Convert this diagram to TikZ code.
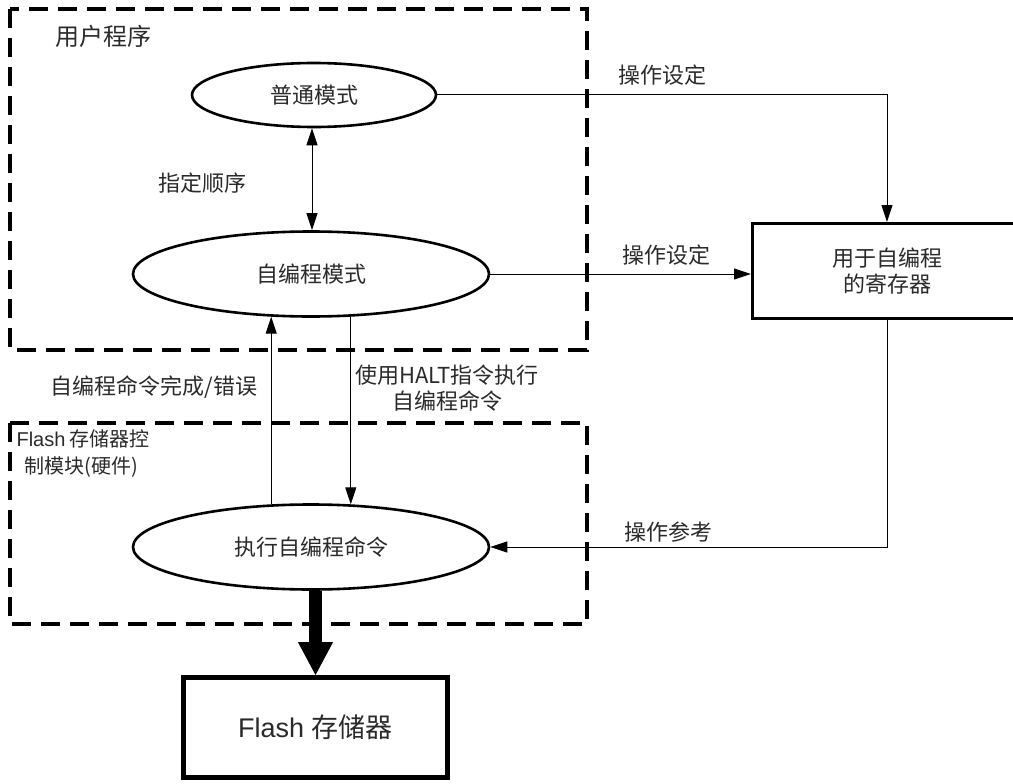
\documentclass[tikz,border=0pt]{standalone}
\usepackage{fontspec}
\setmainfont{Liberation Sans}
\newfontfamily\cjk{Noto Sans CJK SC}
\newfontfamily\arial{Liberation Sans}
\usetikzlibrary{arrows.meta, shapes.geometric}
\definecolor{ink}{HTML}{2A2A2A}

\begin{document}
\begin{tikzpicture}[x=1pt, y=-1pt,
    >={Triangle[length=17pt, width=11pt]},
    every node/.style={font=\cjk\fontsize{22}{26}\selectfont, text=ink},
    mode/.style={ellipse, draw, line width=2.6pt, inner sep=0pt},
    group/.style={draw, line width=3.2pt, dash pattern=on 19pt off 10pt},
    link/.style={line width=1pt, ->},
    memblock/.style={draw, rectangle, inner sep=0pt, align=center}]
\useasboundingbox (0,0) rectangle (1013,784);
\clip (0,0) rectangle (1013,784);

% dashed groups
\draw[group] (10,9) rectangle (587,350);
\draw[group] (10,423) rectangle (587,624);
\node[anchor=west, font=\cjk\fontsize{24}{28}\selectfont] (user-label) at (52,36) {用户程序};
\node[anchor=north west, align=left, font=\cjk\fontsize{20}{27}\selectfont]
    (ctrl-label) at (13,426) {{\arial Flash} 存储器控\\\hspace*{8pt}制模块(硬件)};

% modes
\node[mode, minimum width=244pt, minimum height=64pt] (normal) at (314,95) {普通模式};
\node[mode, minimum width=356pt, minimum height=85pt] (selfprog) at (311,274) {自编程模式};
\node[mode, minimum width=356pt, minimum height=85pt] (exec) at (311,547) {执行自编程命令};

% blocks
\node[memblock, line width=3pt, minimum width=269pt, minimum height=95pt]
    (reg) at (887,271) {用于自编程\\的寄存器};
\node[memblock, line width=5pt, minimum width=264pt, minimum height=100pt,
    font=\arial\fontsize{27}{30}\selectfont] (flash) at (315.5,727.5) {Flash {\cjk 存储器}};

% connectors
\draw[link] (normal.east) -| (reg.north);
\draw[link] (selfprog.east) -- (selfprog.east -| reg.west);
\draw[link] (reg.south) |- (exec.east);
\draw[link, <->] (normal.south -| 312,0) -- (selfprog.north -| 312,0);
\draw[link] (exec.133) -- (selfprog.227);
\draw[link] (selfprog.313) -- (exec.47);
\draw[line width=13pt, -{Triangle[length=33pt, width=35pt, line width=1pt]}]
    (exec.south -| flash.north) -- (flash.north);

% labels
\node (set-label-a) at (662,75) {操作设定};
\node (set-label-b) at (666,255) {操作设定};
\node (ref-label) at (668,532) {操作参考};
\node (seq-label) at (202,183) {指定顺序};
\node (done-label) at (154,387) {自编程命令完成/错误};
\node[align=center] (halt-label) at (447,388) {使用HALT指令执行\\自编程命令};
\end{tikzpicture}
\end{document}
